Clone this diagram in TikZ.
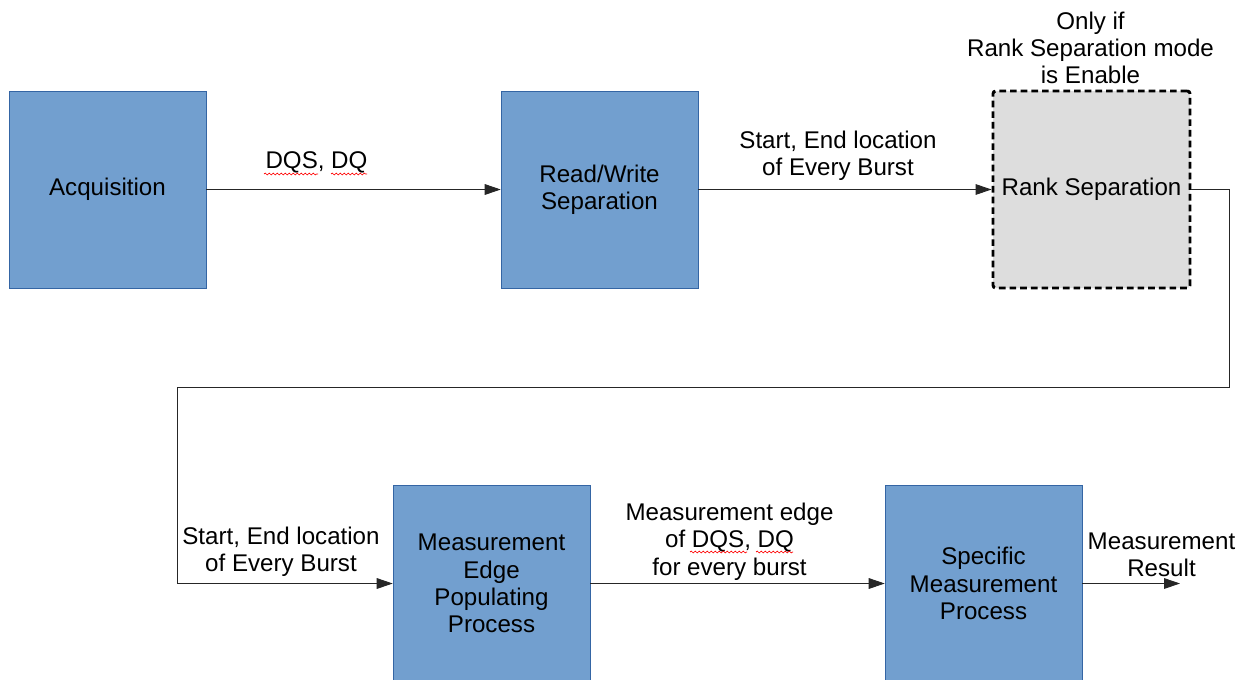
\documentclass[tikz,border=0pt]{standalone}
\usepackage{fontspec}
\setmainfont{Liberation Sans}
\usetikzlibrary{arrows.meta,decorations.pathmorphing}

\definecolor{boxblue}{HTML}{729FCF}
\definecolor{boxedge}{HTML}{3465A4}
\definecolor{rankgrey}{HTML}{DDDDDD}

\begin{document}
\begin{tikzpicture}[x=0.75pt,y=-0.75pt,
        font=\fontsize{18.1}{20.5}\selectfont,
        block/.style={draw=boxedge, fill=boxblue, minimum width=147.75pt,
            minimum height=147.75pt, inner sep=0pt, align=center},
        optblock/.style={block, draw=black, fill=rankgrey, line width=2.2pt,
            dash pattern=on 5pt off 3pt, rounded corners=2pt},
        conn/.style={draw=black!85, line width=0.7pt,
            -{Triangle[length=12pt,width=8pt]}},
        lbl/.style={align=center, inner sep=0pt},
        squig/.style={red, line width=0.5pt, decorate,
            decoration={snake, amplitude=0.7pt, segment length=3pt}}]
        \useasboundingbox (0,0) rectangle (1248,679);

        % processing blocks
        \node[block] (acq) at (107.5,189.5) {Acquisition};
        \node[block] (rw) at (599.5,189.5) {Read/Write\\Separation};
        \node[optblock] (rank) at (1091.5,189.5) {Rank Separation};
        \node[block] (mep) at (491.5,583.5) {Measurement\\Edge\\Populating\\Process};
        \node[block] (smp) at (983.5,583.5) {Specific\\Measurement\\Process};

        \coordinate (turnR) at (1229,387);
        \coordinate (turnL) at (177,387);
        \coordinate (out) at (1180,583.5);

        % connectors
        \draw[conn] (acq) -- (rw);
        \draw[conn] (rw) -- (rank);
        \draw[conn] (rank.east) -| (turnR) -- (turnL) |- (mep.west);
        \draw[conn] (mep) -- (smp);
        \draw[conn] (smp.east) -- (out);

        % labels
        \node[lbl] (dq1) at (316.5,162) {DQS, DQ};
        \node[lbl] (loc1) at (838,155.5) {Start, End location\\of Every Burst};
        \node[lbl] (loc2) at (281,551.5) {Start, End location\\of Every Burst};
        \node[lbl] (edge) at (729.5,541.5) {Measurement edge\\of DQS, DQ\\for every burst};
        \node[lbl] (res) at (1161.5,554.5) {Measurement\\Result};
        \node[lbl] (note) at (1090.5,48) {Only if\\Rank Separation mode\\is Enable};

        \draw[squig] (264,174) -- (318,174);
        \draw[squig] (331,174) -- (367,174);
        \draw[squig] (690,552) -- (747,552);
        \draw[squig] (756,552) -- (793,552);
    \end{tikzpicture}
\end{document}
